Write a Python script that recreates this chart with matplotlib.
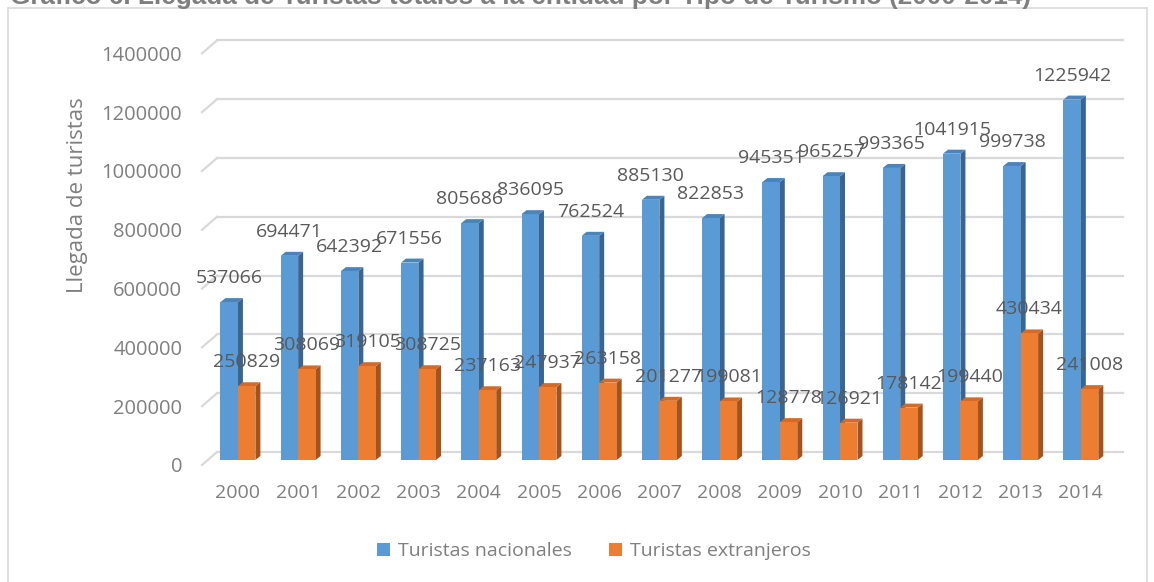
import matplotlib

matplotlib.use("Agg")
import matplotlib.pyplot as plt
from matplotlib.patches import Polygon, Rectangle, Patch
from matplotlib.transforms import ScaledTranslation

plt.rcParams["font.family"] = ["Open Sans", "DejaVu Sans"]

YEARS = ["2000", "2001", "2002", "2003", "2004", "2005", "2006", "2007",
         "2008", "2009", "2010", "2011", "2012", "2013", "2014"]
NACIONALES = [537066, 694471, 642392, 671556, 805686, 836095, 762524, 885130,
              822853, 945351, 965257, 993365, 1041915, 999738, 1225942]
EXTRANJEROS = [250829, 308069, 319105, 308725, 237163, 247937, 263158, 201277,
               199081, 128778, 126921, 178142, 199440, 430434, 241008]
Y_TICKS = [0, 200000, 400000, 600000, 800000, 1000000, 1200000, 1400000]
TITLE = ("Gráfico 6. Llegada de Turistas totales a la entidad por Tipo de "
         "Turismo (2000-2014)")

W, H, DPI = 1154, 582, 100
BLUE = ("#5B9BD5", "#4A84BC", "#3B6591")     # front, top, side
ORANGE = ("#ED7D31", "#D46A26", "#A3541E")
GRID = "#D9D9D9"

fig = plt.figure(figsize=(W / DPI, H / DPI), dpi=DPI)

# axes placed in pixel units (left, top, right, bottom)
L, T, R, B = 203, 48.4, 1123, 460
ax = fig.add_axes([L / W, 1 - B / H, (R - L) / W, (B - T) / H])
xlim = (-0.58, 14.70)
ylim = (0, 1400000)
ax.set_xlim(*xlim)
ax.set_ylim(*ylim)
ux = (xlim[1] - xlim[0]) / (R - L)   # data units per pixel
uy = (ylim[1] - ylim[0]) / (B - T)

for s in ax.spines.values():
    s.set_visible(False)

# back-wall gridlines and floor diagonals
for v in Y_TICKS:
    ax.plot([xlim[0] + 14 * ux, xlim[1]], [v + 8 * uy, v + 8 * uy],
            color=GRID, lw=1.6, clip_on=False, zorder=0)
    ax.plot([xlim[0] - 1 * ux, xlim[0] + 14 * ux],
            [v - 5 * uy, v + 8 * uy], color=GRID, lw=1.6, clip_on=False,
            zorder=0)

bw = 0.29
dx, dy = 5 * ux, 4 * uy


def bar3d(x0, h, cols):
    front, top, side = cols
    ax.add_patch(Polygon([(x0 + bw, 0), (x0 + bw + dx, dy),
                          (x0 + bw + dx, h + dy), (x0 + bw, h)],
                         closed=True, fc=side, ec="none", zorder=2,
                         clip_on=False))
    ax.add_patch(Polygon([(x0, h), (x0 + dx, h + dy), (x0 + bw + dx, h + dy),
                          (x0 + bw, h)], closed=True, fc=top, ec="none",
                         zorder=2, clip_on=False))
    ax.add_patch(Rectangle((x0, 0), bw, h, fc=front, ec="none", zorder=3,
                           clip_on=False))


for i, (n, e) in enumerate(zip(NACIONALES, EXTRANJEROS)):
    bar3d(i - bw, n, BLUE)
    bar3d(i, e, ORANGE)

label_kw = dict(textcoords="offset pixels", ha="center", va="center",
                fontsize=14, color="#595959", zorder=5)
for i, (n, e) in enumerate(zip(NACIONALES, EXTRANJEROS)):
    ax.annotate(str(n), (i - bw / 2, n), xytext=(0, 24), **label_kw)
    ax.annotate(str(e), (i + bw / 2, e), xytext=(0, 24), **label_kw)

ax.set_yticks(Y_TICKS)
ax.set_yticklabels([str(v) for v in Y_TICKS])
ax.set_xticks(range(len(YEARS)))
ax.set_xticklabels(YEARS)
ax.tick_params(axis="y", length=0, pad=15, labelsize=14.5,
               labelcolor="#7F7F7F")
ax.tick_params(axis="x", length=0, pad=17, labelsize=14, labelcolor="#7F7F7F")
shift = ScaledTranslation(0, -5 / DPI, fig.dpi_scale_trans)
for lab in ax.get_yticklabels():
    lab.set_transform(lab.get_transform() + shift)

fig.text(78 / W, 1 - 195 / H, "Llegada de turistas", rotation=90,
         ha="center", va="center", fontsize=16, color="#7F7F7F")

handles = [Patch(fc=BLUE[0], ec="none", label="Turistas nacionales"),
           Patch(fc=ORANGE[0], ec="none", label="Turistas extranjeros")]
leg = fig.legend(handles=handles, loc="center", ncol=2,
                 bbox_to_anchor=(594 / W, 1 - 551 / H), frameon=False,
                 fontsize=14, handlelength=0.67, handleheight=0.67,
                 handletextpad=0.4, columnspacing=1.9)
for t in leg.get_texts():
    t.set_color("#7F7F7F")

# outer chart frame and the caption above it (cut by the top edge, as in
# the source image)
fig.patches.append(Rectangle((8 / W, -0.05), (1147 - 8) / W, 1 - 8 / H + 0.05,
                             transform=fig.transFigure, fill=False,
                             ec=GRID, lw=1.2))
fig.text(10 / W, 1 - 4 / H, TITLE, ha="left", va="baseline", fontsize=18.8,
         fontweight="bold", color="#7F7F7F", family="Liberation Sans")

fig.savefig("out.png", dpi=DPI)
